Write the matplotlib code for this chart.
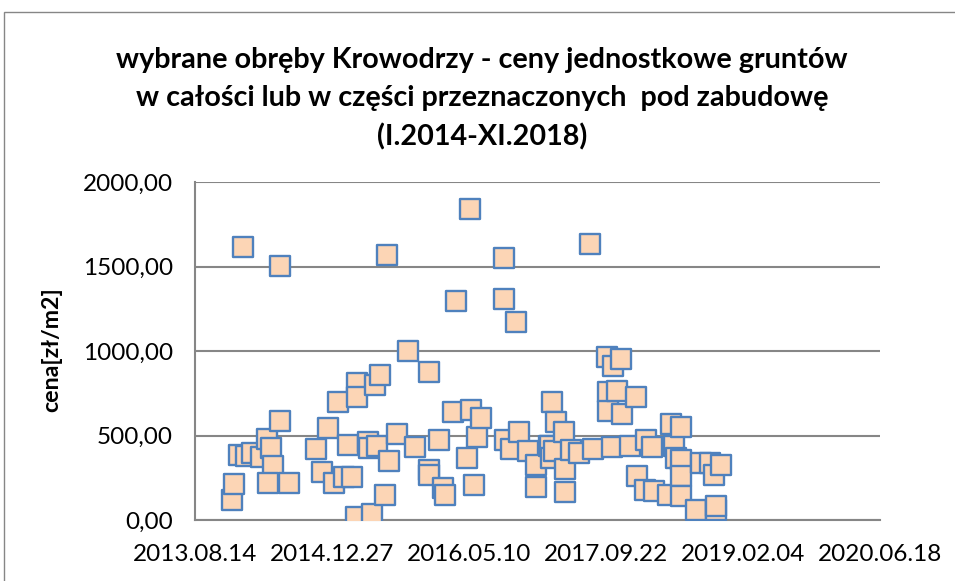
import pandas as pd
import matplotlib
matplotlib.use("Agg")
import matplotlib.pyplot as plt
import matplotlib.dates as mdates
from matplotlib.patches import Rectangle
from matplotlib.ticker import FuncFormatter

# data: transaction date and unit price [zl/m2]
dates = ["2013-12-28", "2014-01-04", "2014-02-07", "2014-01-22", "2014-02-15", "2014-03-11",
         "2014-04-11", "2014-05-05", "2014-05-18", "2014-05-26", "2014-05-09", "2014-06-19",
         "2014-06-20", "2014-07-24", "2014-10-29", "2014-11-19", "2014-12-11", "2015-01-05",
         "2015-01-19", "2015-02-10", "2015-02-22", "2015-03-11", "2015-03-27", "2015-03-30",
         "2015-03-25", "2015-05-06", "2015-05-12", "2015-05-22", "2015-06-03", "2015-06-11",
         "2015-06-21", "2015-07-08", "2015-07-16", "2015-07-22", "2015-08-21", "2015-10-02",
         "2015-10-27", "2015-12-15", "2015-12-15", "2015-12-17", "2016-01-20", "2016-02-04",
         "2016-02-13", "2016-03-11", "2016-03-25", "2016-05-02", "2016-05-15", "2016-05-18",
         "2016-05-27", "2016-06-07", "2016-06-21", "2016-09-13", "2016-09-16", "2016-09-20",
         "2016-10-10", "2016-10-27", "2016-11-10", "2016-12-13", "2017-01-10", "2017-01-11",
         "2017-02-25", "2017-03-02", "2017-03-04", "2017-03-08", "2017-03-18", "2017-03-22",
         "2017-04-21", "2017-04-27", "2017-04-27", "2017-05-19", "2017-06-15", "2017-07-24",
         "2017-08-04", "2017-09-27", "2017-09-29", "2017-09-30", "2017-10-15", "2017-10-17",
         "2017-11-01", "2017-11-17", "2017-11-20", "2017-12-17", "2018-01-08", "2018-01-14",
         "2018-02-11", "2018-02-16", "2018-03-08", "2018-03-17", "2018-05-07", "2018-05-16",
         "2018-05-29", "2018-06-06", "2018-06-22", "2018-06-22", "2018-06-22", "2018-06-24",
         "2018-08-16", "2018-09-04", "2018-10-08", "2018-10-22", "2018-10-30", "2018-10-30",
         "2018-11-14"]
prices = [118, 215, 1617, 385, 379, 396,
          371, 480, 424, 322, 221, 588,
          1503, 217, 418, 286, 546, 217,
          700, 255, 444, 252, 810, 730,
          18, 463, 424, 35, 800, 438,
          858, 148, 1568, 351, 507, 1001,
          434, 873, 296, 266, 473, 187,
          148, 641, 1297, 365, 1838, 651,
          207, 493, 606, 1308, 1550, 475,
          419, 1173, 522, 408, 323, 193,
          440, 438, 368, 698, 408, 578,
          521, 302, 163, 414, 395, 1633,
          422, 962, 760, 643, 434, 910,
          765, 952, 628, 438, 727, 258,
          178, 475, 430, 173, 148, 570,
          438, 368, 548, 355, 260, 142,
          59, 339, 339, 266, 59, 85,
          325]

x_ticks = ["2013-08-14", "2014-12-27", "2016-05-10", "2017-09-22", "2019-02-04", "2020-06-18"]
y_ticks = [0, 500, 1000, 1500, 2000]

title = ("wybrane obręby Krowodrzy - ceny jednostkowe gruntów\n"
         "w całości lub w części przeznaczonych  pod zabudowę\n"
         "(I.2014-XI.2018)")

grid_col = "#868686"
font = "Lato"

fig = plt.figure(figsize=(9.55, 5.81), dpi=100)
ax = fig.add_axes([195 / 955, 1 - 520 / 581, 685 / 955, 338 / 581])

ax.scatter(pd.to_datetime(dates), prices, marker="s", s=190,
           facecolor="#FCD5B5", edgecolor="#4F81BD", linewidth=1.7, zorder=3)

tick_dates = pd.to_datetime(x_ticks)
ax.set_xlim(tick_dates[0], tick_dates[-1])
ax.set_xticks(tick_dates)
ax.xaxis.set_major_formatter(mdates.DateFormatter("%Y.%m.%d"))
ax.set_ylim(0, 2000)
ax.set_yticks(y_ticks)
ax.yaxis.set_major_formatter(FuncFormatter(lambda v, p: f"{v:.2f}".replace(".", ",")))

ax.grid(axis="y", color=grid_col, linewidth=1.5, zorder=0)
for s in ["top", "right"]:
    ax.spines[s].set_visible(False)
for s in ["left", "bottom"]:
    ax.spines[s].set_color(grid_col)
    ax.spines[s].set_linewidth(1.5)
ax.tick_params(length=0, labelsize=17.5)
ax.tick_params(axis="x", pad=17)
ax.tick_params(axis="y", pad=16)
for lab in ax.get_xticklabels() + ax.get_yticklabels():
    lab.set_fontfamily(font)

ax.set_ylabel("cena[zł/m2]", fontsize=16.7, fontweight="bold", fontfamily=font)
ax.yaxis.set_label_coords(-0.194, 0.503)

fig.text(482 / 955, 1 - 99 / 581, title, ha="center", va="center", fontsize=20.7,
         fontweight="bold", fontfamily=font, linespacing=1.56)

fig.add_artist(Rectangle((4 / 955, -0.1), 1.2, 1.1 - 12 / 581, transform=fig.transFigure,
                         fill=False, edgecolor=grid_col, linewidth=1))

fig.savefig("out.png", dpi=100)
